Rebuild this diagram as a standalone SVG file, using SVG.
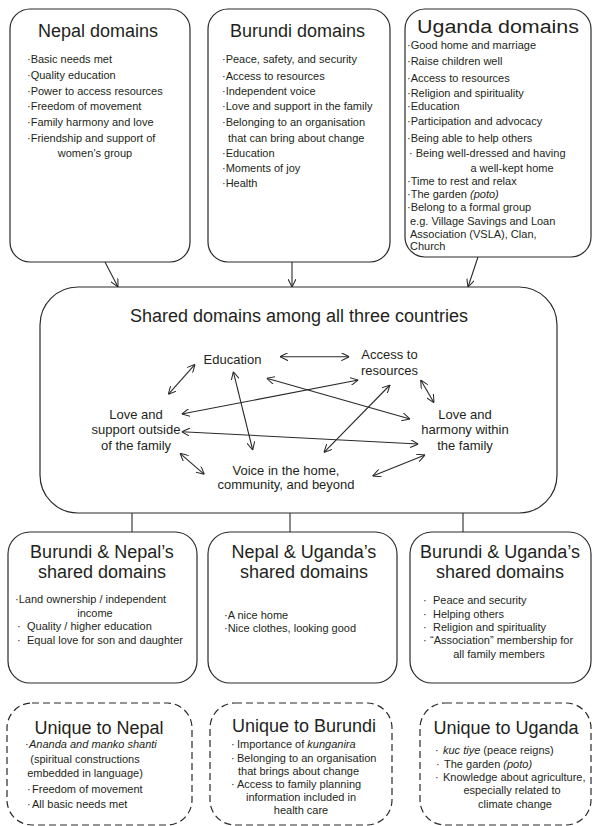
<svg xmlns="http://www.w3.org/2000/svg" width="592" height="826" viewBox="0 0 592 826">
<defs>
<style>
.box{fill:#fff;stroke:#2a2a2a;stroke-width:1.2}
.dash{fill:#fff;stroke:#2a2a2a;stroke-width:1.2;stroke-dasharray:7 4}
text{font-family:"Liberation Sans",Arial,sans-serif;fill:#231f20}
.t{font-size:18px;text-anchor:middle}
.n{font-size:13px;text-anchor:middle}
.i{font-size:11px}
.c{font-size:11px;text-anchor:middle}
.it{font-style:italic}
.con{fill:none;stroke:#2a2a2a;stroke-width:1.1}
</style>
<marker id="ah" viewBox="0 0 10 10" refX="10" refY="5" markerWidth="8" markerHeight="8" markerUnits="userSpaceOnUse" orient="auto-start-reverse">
<path d="M0,0 L10,5 L0,10" fill="none" stroke="#2a2a2a" stroke-width="1.3"/>
</marker>
</defs>
<rect width="592" height="826" fill="#fff"/>

<g id="nepal">
<rect class="box" x="10" y="9" width="180" height="253" rx="20"/>
<text class="t" x="98" y="37">Nepal domains</text>
<g class="i">
<text x="27" y="63">·Basic needs met</text>
<text x="27" y="79">·Quality education</text>
<text x="27" y="94.5">·Power to access resources</text>
<text x="27" y="110">·Freedom of movement</text>
<text x="27" y="126">·Family harmony and love</text>
<text x="27" y="141.5">·Friendship and support of</text>
</g>
<text class="c" x="95" y="157">women’s group</text>
</g>

<g id="burundi">
<rect class="box" x="208" y="9" width="182" height="253" rx="20"/>
<text class="t" x="297.5" y="37">Burundi domains</text>
<g class="i">
<text x="222" y="63">·Peace, safety, and security</text>
<text x="222" y="80">·Access to resources</text>
<text x="222" y="95">·Independent voice</text>
<text x="222" y="110">·Love and support in the family</text>
<text x="222" y="126">·Belonging to an organisation</text>
<text x="228" y="142">that can bring about change</text>
<text x="222" y="157">·Education</text>
<text x="222" y="172">·Moments of joy</text>
<text x="222" y="187">·Health</text>
</g>
</g>

<g id="uganda">
<rect class="box" x="405" y="9" width="186" height="248" rx="20"/>
<text class="t" x="498" y="33" textLength="162" lengthAdjust="spacingAndGlyphs">Uganda domains</text>
<g class="i">
<text x="407" y="49">·Good home and marriage</text>
<text x="407" y="65">·Raise children well</text>
<text x="407" y="82">·Access to resources</text>
<text x="407" y="97">·Religion and spirituality</text>
<text x="407" y="110">·Education</text>
<text x="407" y="125">·Participation and advocacy</text>
<text x="407" y="142">·Being able to help others</text>
<text x="409" y="157">·  Being well-dressed and having</text>
<text x="407" y="185">·Time to rest and relax</text>
<text x="407" y="198">·The garden <tspan class="it">(poto)</tspan></text>
<text x="407" y="211">·Belong to a formal group</text>
<text x="410" y="225">e.g. Village Savings and Loan</text>
<text x="410" y="238">Association (VSLA), Clan,</text>
<text x="410" y="250">Church</text>
</g>
<text class="c" x="512" y="172">a well-kept home</text>
</g>

<g id="shared">
<rect class="box" x="40" y="287" width="517" height="226" rx="38"/>
<text class="t" x="299" y="322">Shared domains among all three countries</text>
</g>
<g id="education"><text class="n" x="232.5" y="364">Education</text></g>
<g id="access"><text class="n" x="389.5" y="359">Access to</text><text class="n" x="389.5" y="374.5">resources</text></g>
<g id="love-outside"><text class="n" x="136" y="418.5">Love and</text><text class="n" x="136" y="434">support outside</text><text class="n" x="136" y="449.5">of the family</text></g>
<g id="love-within"><text class="n" x="465" y="418.5">Love and</text><text class="n" x="465" y="434">harmony within</text><text class="n" x="465" y="449.5">the family</text></g>
<g id="voice"><text class="n" x="286" y="474.5">Voice in the home,</text><text class="n" x="286" y="489">community, and beyond</text></g>

<g id="bn">
<rect class="box" x="8" y="532" width="189" height="151" rx="22"/>
<text class="t" x="102" y="558">Burundi &amp; Nepal’s</text>
<text class="t" x="102" y="578">shared domains</text>
<text class="i" x="15" y="603">·Land ownership / independent</text>
<text class="c" x="95" y="617">income</text>
<text class="i" x="17" y="630">·</text><text class="i" x="27" y="630">Quality / higher education</text>
<text class="i" x="17" y="644">·</text><text class="i" x="27" y="644">Equal love for son and daughter</text>
</g>

<g id="nu">
<rect class="box" x="208" y="532" width="189" height="151" rx="22"/>
<text class="t" x="304" y="558">Nepal &amp; Uganda’s</text>
<text class="t" x="304" y="578">shared domains</text>
<text class="i" x="224" y="619">·A nice home</text>
<text class="i" x="224" y="632">·Nice clothes, looking good</text>
</g>

<g id="bu">
<rect class="box" x="410" y="532" width="181" height="151" rx="22"/>
<text class="t" x="500" y="558">Burundi &amp; Uganda’s</text>
<text class="t" x="500" y="578">shared domains</text>
<text class="i" x="423" y="604">·</text><text class="i" x="433" y="604">Peace and security</text>
<text class="i" x="423" y="618">·</text><text class="i" x="433" y="618">Helping others</text>
<text class="i" x="423" y="631">·</text><text class="i" x="433" y="631">Religion and spirituality</text>
<text class="i" x="423" y="644">·</text><text class="i" x="430" y="644">“Association” membership for</text>
<text class="c" x="499" y="658">all family members</text>
</g>

<g id="unique-nepal">
<rect class="dash" x="7" y="703" width="185" height="122" rx="25"/>
<text class="t" x="99" y="734">Unique to Nepal</text>
<text class="i" x="25" y="748">·</text><text class="i it" x="29" y="748">Ananda and manko shanti</text>
<text class="c" x="85" y="763">(spiritual constructions</text>
<text class="c" x="85" y="777">embedded in language)</text>
<text class="i" x="27" y="793">·</text><text class="i" x="32" y="793">Freedom of movement</text>
<text class="i" x="27" y="808">·</text><text class="i" x="32" y="808">All basic needs met</text>
</g>

<g id="unique-burundi">
<rect class="dash" x="210" y="703" width="182" height="122" rx="25"/>
<text class="t" x="304" y="732">Unique to Burundi</text>
<text class="i" x="231" y="748">·</text><text class="i" x="237" y="748">Importance of <tspan class="it">kunganira</tspan></text>
<text class="i" x="231" y="762">·</text><text class="i" x="237" y="762">Belonging to an organisation</text>
<text class="i" x="238" y="775">that brings about change</text>
<text class="i" x="231" y="788">·</text><text class="i" x="237" y="788">Access to family planning</text>
<text class="c" x="301" y="801">information included in</text>
<text class="c" x="301" y="814">health care</text>
</g>

<g id="unique-uganda">
<rect class="dash" x="420" y="703" width="171" height="122" rx="25"/>
<text class="t" x="506" y="734">Unique to Uganda</text>
<text class="i" x="435" y="754">·</text><text class="i" x="443" y="754"><tspan class="it">kuc tiye</tspan> (peace reigns)</text>
<text class="i" x="436" y="768">·</text><text class="i" x="444" y="768">The garden <tspan class="it">(poto)</tspan></text>
<text class="i" x="435" y="781">·</text><text class="i" x="443" y="781">Knowledge about agriculture,</text>
<text class="c" x="512" y="794">especially related to</text>
<text class="c" x="515" y="808">climate change</text>
</g>

<g id="connectors" class="con">
<line x1="105" y1="262" x2="118" y2="287" marker-end="url(#ah)"/>
<line x1="292" y1="262" x2="292" y2="287" marker-end="url(#ah)"/>
<line x1="478" y1="257" x2="468" y2="287" marker-end="url(#ah)"/>
<line x1="132" y1="513" x2="132" y2="532"/>
<line x1="290" y1="513" x2="290" y2="532"/>
<line x1="463" y1="513" x2="463" y2="532"/>
<line x1="280" y1="356.7" x2="349.3" y2="356.7" marker-start="url(#ah)" marker-end="url(#ah)"/>
<line x1="195" y1="364.3" x2="168.3" y2="394.3" marker-start="url(#ah)" marker-end="url(#ah)"/>
<line x1="233.3" y1="371.7" x2="252.7" y2="450" marker-start="url(#ah)" marker-end="url(#ah)"/>
<line x1="358.3" y1="380" x2="181.7" y2="414" marker-start="url(#ah)" marker-end="url(#ah)"/>
<line x1="266.7" y1="378.3" x2="410" y2="419" marker-start="url(#ah)" marker-end="url(#ah)"/>
<line x1="390" y1="385" x2="324" y2="452.3" marker-start="url(#ah)" marker-end="url(#ah)"/>
<line x1="420.7" y1="380" x2="434" y2="402.7" marker-start="url(#ah)" marker-end="url(#ah)"/>
<line x1="181.7" y1="431.7" x2="418.3" y2="444" marker-start="url(#ah)" marker-end="url(#ah)"/>
<line x1="180" y1="453.3" x2="204.3" y2="474.3" marker-start="url(#ah)" marker-end="url(#ah)"/>
<line x1="425" y1="455" x2="372.7" y2="476" marker-start="url(#ah)" marker-end="url(#ah)"/>
</g>
</svg>
